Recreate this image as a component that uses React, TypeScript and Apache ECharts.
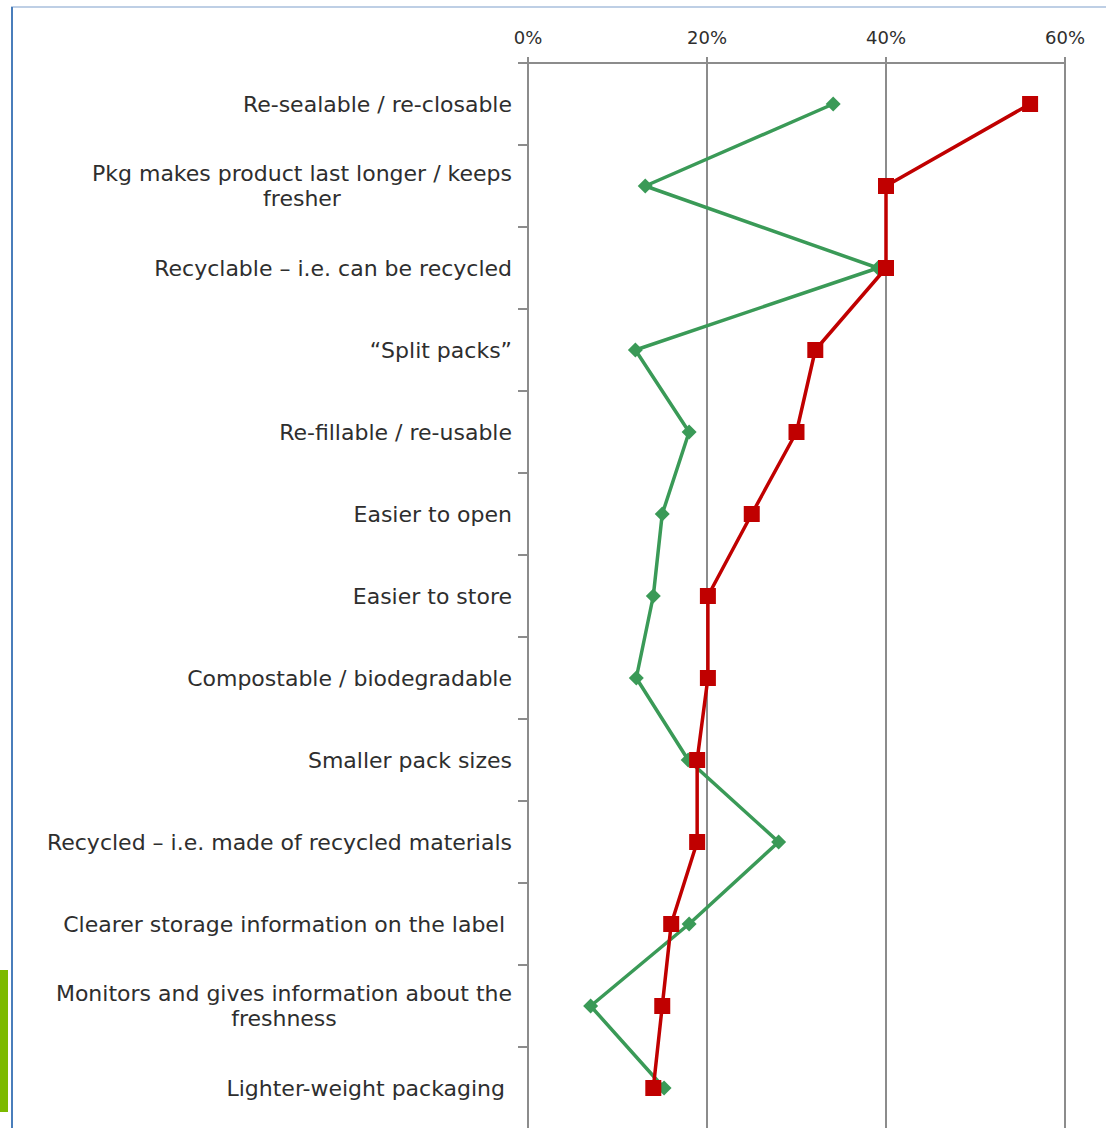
import React, { useEffect, useRef } from "react";
import * as echarts from "echarts";

const categories = [
  "Re-sealable / re-closable",
  "Pkg makes product last longer / keeps\nfresher",
  "Recyclable – i.e. can be recycled",
  "“Split packs”",
  "Re-fillable / re-usable",
  "Easier to open",
  "Easier to store",
  "Compostable / biodegradable",
  "Smaller pack sizes",
  "Recycled – i.e. made of recycled materials",
  "Clearer storage information on the label ",
  "Monitors and gives information about the\nfreshness",
  "Lighter-weight packaging ",
];

const redValues = [56.1, 40, 40, 32.1, 30, 25, 20.1, 20.1, 18.9, 18.9, 16, 15, 14];
const greenValues = [34.1, 13.1, 39.1, 12, 18, 15, 14, 12.1, 17.9, 28, 18, 7, 15.2];

const xTicks = { min: 0, max: 60, interval: 20 };

export default function App() {
  const ref = useRef<HTMLDivElement>(null);
  useEffect(() => {
    if (!ref.current) return;
    const chart = echarts.init(ref.current, undefined, { renderer: "svg" });
    const font = "'DejaVu Sans', Verdana, sans-serif";
    chart.setOption({
      animation: false,
      backgroundColor: "#ffffff",
      grid: { left: 528, right: 41, top: 63, height: 1066 },
      xAxis: {
        type: "value",
        position: "top",
        min: xTicks.min,
        max: xTicks.max,
        interval: xTicks.interval,
        axisLine: { show: true, lineStyle: { color: "#8c8c8c", width: 2 } },
        axisTick: { show: true, length: 6, lineStyle: { color: "#8c8c8c", width: 2 } },
        splitLine: { show: true, lineStyle: { color: "#8c8c8c", width: 2 } },
        axisLabel: {
          formatter: "{value}%",
          color: "#2e2e2e",
          fontSize: 18,
          fontFamily: font,
          margin: 17,
        },
      },
      yAxis: {
        type: "category",
        inverse: true,
        data: categories,
        axisLine: { show: true, lineStyle: { color: "#8c8c8c", width: 2 } },
        axisTick: { show: true, length: 10, alignWithLabel: false, lineStyle: { color: "#8c8c8c", width: 2 } },
        splitLine: { show: false },
        axisLabel: {
          margin: 16,
          color: "#2e2e2e",
          fontSize: 22,
          fontFamily: font,
          lineHeight: 25,
          formatter: (v: string) =>
            v
              .split("\n")
              .map((l) => `{c|${l}}`)
              .join("\n"),
          rich: {
            c: { align: "center", fontSize: 22, fontFamily: font, color: "#2e2e2e", lineHeight: 25 },
          },
        },
      },
      series: [
        {
          type: "line",
          data: greenValues,
          symbol: "diamond",
          symbolSize: 15,
          lineStyle: { color: "#3a9a57", width: 3.5 },
          itemStyle: { color: "#3a9a57" },
          z: 2,
        },
        {
          type: "line",
          data: redValues,
          symbol: "rect",
          symbolSize: 16,
          lineStyle: { color: "#c00000", width: 3.5 },
          itemStyle: { color: "#c00000" },
          z: 3,
        },
      ],
      graphic: [
        { type: "line", shape: { x1: 11, y1: 7, x2: 1106, y2: 7 }, style: { stroke: "#a9bfdd", lineWidth: 1.5 } },
        { type: "line", shape: { x1: 12, y1: 7, x2: 12, y2: 1140 }, style: { stroke: "#4a7ebb", lineWidth: 2 } },
        { type: "rect", shape: { x: 0, y: 970, width: 8, height: 142 }, style: { fill: "#7cba00" } },
      ],
    });
    return () => chart.dispose();
  }, []);
  return (
    <div
      ref={ref}
      style={{ position: "absolute", left: 0, top: 0, width: 1106, height: 1140 }}
    />
  );
}
